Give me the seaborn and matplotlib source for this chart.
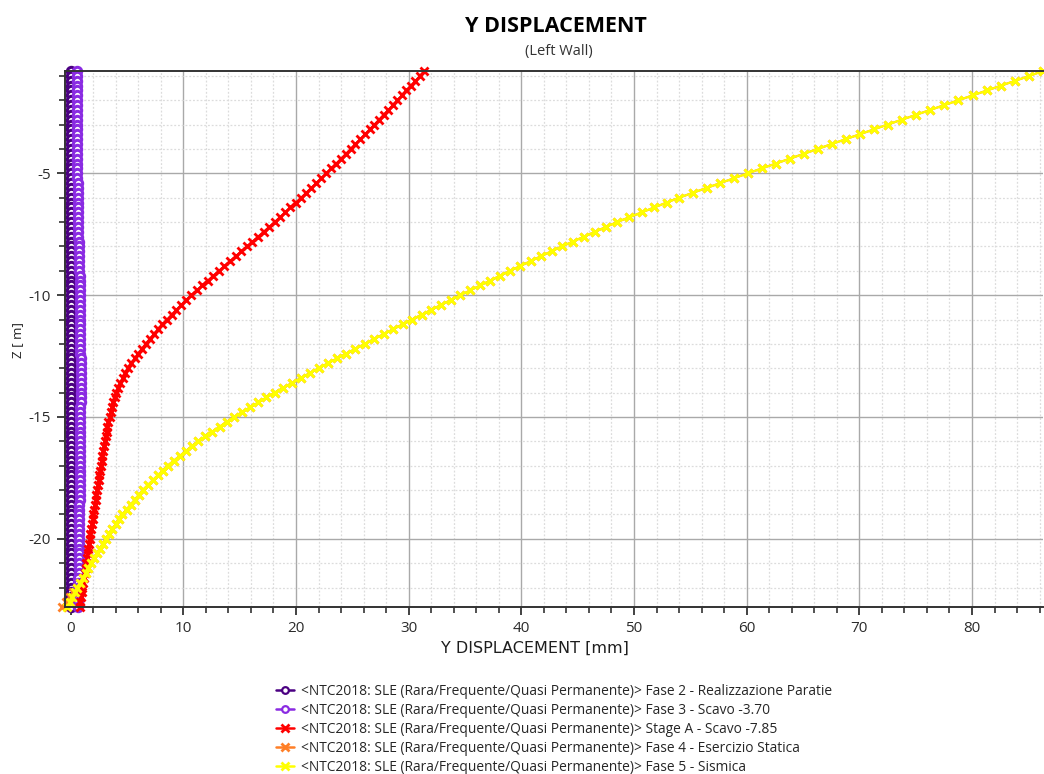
import matplotlib
matplotlib.use("Agg")
import matplotlib.pyplot as plt
import seaborn as sns
from matplotlib.ticker import MultipleLocator
from matplotlib.lines import Line2D

# ---------------------------------------------------------------------------
# Wall nodes (depth, m) and horizontal Y displacement of the left wall (mm)
# ---------------------------------------------------------------------------
depth = [
    -0.8, -1.0,
    -1.2, -1.4, -1.6, -1.8, -2.0,
    -2.2, -2.4, -2.6, -2.8, -3.0,
    -3.2, -3.4, -3.6, -3.8, -4.0,
    -4.2, -4.4, -4.6, -4.8, -5.0,
    -5.2, -5.4, -5.6, -5.8, -6.0,
    -6.2, -6.4, -6.6, -6.8, -7.0,
    -7.2, -7.4, -7.6, -7.8, -8.0,
    -8.2, -8.4, -8.6, -8.8, -9.0,
    -9.2, -9.4, -9.6, -9.8, -10.0,
    -10.2, -10.4, -10.6, -10.8, -11.0,
    -11.2, -11.4, -11.6, -11.8, -12.0,
    -12.2, -12.4, -12.6, -12.8, -13.0,
    -13.2, -13.4, -13.6, -13.8, -14.0,
    -14.2, -14.4, -14.6, -14.8, -15.0,
    -15.2, -15.4, -15.6, -15.8, -16.0,
    -16.2, -16.4, -16.6, -16.8, -17.0,
    -17.2, -17.4, -17.6, -17.8, -18.0,
    -18.2, -18.4, -18.6, -18.8, -19.0,
    -19.2, -19.4, -19.6, -19.8, -20.0,
    -20.2, -20.4, -20.6, -20.8, -21.0,
    -21.2, -21.4, -21.6, -21.8, -22.0,
    -22.2, -22.4, -22.6, -22.8,
]

fase2 = [
    0.0, 0.0,                       # -0.8 .. -1.0
    0.0, 0.0, 0.0, 0.0, 0.0,        # -1.2 .. -2.0
    0.0, 0.0, 0.0, 0.0, 0.0,        # -2.2 .. -3.0
    0.0, 0.0, 0.0, 0.0, 0.0,        # -3.2 .. -4.0
    0.0, 0.0, 0.0, 0.0, 0.0,        # -4.2 .. -5.0
    0.0, 0.0, 0.0, 0.0, 0.0,        # -5.2 .. -6.0
    0.0, 0.0, 0.0, 0.0, 0.0,        # -6.2 .. -7.0
    0.0, 0.0, 0.0, 0.0, 0.0,        # -7.2 .. -8.0
    0.0, 0.0, 0.0, 0.0, 0.0,        # -8.2 .. -9.0
    0.0, 0.0, 0.0, 0.0, 0.0,        # -9.2 .. -10.0
    0.0, 0.0, 0.0, 0.0, 0.0,        # -10.2 .. -11.0
    0.0, 0.0, 0.0, 0.0, 0.0,        # -11.2 .. -12.0
    0.0, 0.0, 0.0, 0.0, 0.0,        # -12.2 .. -13.0
    0.0, 0.0, 0.0, 0.0, 0.0,        # -13.2 .. -14.0
    0.0, 0.0, 0.0, 0.0, 0.0,        # -14.2 .. -15.0
    0.0, 0.0, 0.0, 0.0, 0.0,        # -15.2 .. -16.0
    0.0, 0.0, 0.0, 0.0, 0.0,        # -16.2 .. -17.0
    0.0, 0.0, 0.0, 0.0, 0.0,        # -17.2 .. -18.0
    0.0, 0.0, 0.0, 0.0, 0.0,        # -18.2 .. -19.0
    0.0, 0.0, 0.0, 0.0, 0.0,        # -19.2 .. -20.0
    0.0, 0.0, 0.0, 0.0, 0.0,        # -20.2 .. -21.0
    0.0, 0.0, 0.0, 0.0, 0.0,        # -21.2 .. -22.0
    0.0, 0.0, 0.0, 0.0,             # -22.2 .. -22.8
]

fase3 = [
    0.55, 0.55,
    0.55, 0.55, 0.56, 0.56, 0.56,
    0.56, 0.56, 0.57, 0.57, 0.57,
    0.57, 0.57, 0.58, 0.58, 0.58,
    0.58, 0.59, 0.59, 0.60, 0.60,
    0.60, 0.61, 0.61, 0.62, 0.62,
    0.63, 0.64, 0.64, 0.65, 0.66,
    0.67, 0.68, 0.69, 0.71, 0.72,
    0.73, 0.74, 0.76, 0.77, 0.78,
    0.79, 0.80, 0.80, 0.81, 0.82,
    0.83, 0.83, 0.84, 0.84, 0.85,
    0.85, 0.86, 0.86, 0.87, 0.87,
    0.87, 0.87, 0.88, 0.88, 0.88,
    0.88, 0.88, 0.88, 0.88, 0.88,
    0.88, 0.88, 0.87, 0.87, 0.87,
    0.87, 0.86, 0.86, 0.85, 0.85,
    0.85, 0.84, 0.84, 0.83, 0.83,
    0.82, 0.82, 0.81, 0.81, 0.80,
    0.79, 0.79, 0.78, 0.78, 0.77,
    0.76, 0.76, 0.75, 0.75, 0.74,
    0.73, 0.73, 0.72, 0.72, 0.71,
    0.70, 0.70, 0.69, 0.69, 0.68,
    0.67, 0.67, 0.66, 0.65,
]

stage_a = [
    31.40, 31.00,
    30.60, 30.20, 29.80, 29.40, 29.00,
    28.59, 28.18, 27.77, 27.36, 26.95,
    26.53, 26.11, 25.69, 25.27, 24.85,
    24.42, 23.99, 23.56, 23.13, 22.70,
    22.25, 21.80, 21.35, 20.90, 20.45,
    19.98, 19.51, 19.04, 18.57, 18.10,
    17.61, 17.12, 16.63, 16.14, 15.65,
    15.15, 14.65, 14.15, 13.65, 13.15,
    12.66, 12.17, 11.68, 11.19, 10.70,
    10.25, 9.81, 9.38, 8.96, 8.55,
    8.15, 7.76, 7.38, 7.01, 6.65,
    6.31, 5.98, 5.67, 5.38, 5.11,
    4.86, 4.63, 4.42, 4.23, 4.06,
    3.91, 3.78, 3.66, 3.55, 3.45,
    3.36, 3.27, 3.19, 3.11, 3.03,
    2.96, 2.89, 2.82, 2.75, 2.68,
    2.62, 2.55, 2.49, 2.42, 2.36,
    2.29, 2.22, 2.16, 2.09, 2.02,
    1.96, 1.89, 1.83, 1.76, 1.70,
    1.64, 1.58, 1.52, 1.46, 1.40,
    1.33, 1.26, 1.19, 1.12, 1.05,
    0.99, 0.93, 0.86, 0.80,
]

fase5 = [
    86.30, 85.10,
    83.84, 82.58, 81.32, 80.06, 78.80,
    77.54, 76.28, 75.02, 73.76, 72.50,
    71.26, 70.02, 68.78, 67.54, 66.30,
    65.06, 63.82, 62.58, 61.34, 60.10,
    58.88, 57.66, 56.44, 55.22, 54.00,
    52.90, 51.80, 50.70, 49.60, 48.50,
    47.52, 46.54, 45.56, 44.58, 43.60,
    42.68, 41.76, 40.84, 39.92, 39.00,
    38.12, 37.24, 36.36, 35.48, 34.60,
    33.74, 32.88, 32.02, 31.16, 30.30,
    29.46, 28.62, 27.78, 26.94, 26.10,
    25.28, 24.46, 23.64, 22.82, 22.00,
    21.22, 20.44, 19.66, 18.88, 18.10,
    17.38, 16.66, 15.94, 15.22, 14.50,
    13.86, 13.22, 12.58, 11.94, 11.30,
    10.76, 10.22, 9.68, 9.14, 8.60,
    8.16, 7.72, 7.28, 6.84, 6.40,
    6.04, 5.68, 5.32, 4.96, 4.60,
    4.30, 4.00, 3.70, 3.40, 3.10,
    2.84, 2.58, 2.32, 2.06, 1.80,
    1.56, 1.32, 1.08, 0.84, 0.60,
    0.38, 0.15, -0.08, -0.30,
]

# Static service phase: almost identical to the seismic one, apart from the toe
fase4 = fase5[:-4] + [0.20, -0.10, -0.45, -0.80]

prefix = "<NTC2018: SLE (Rara/Frequente/Quasi Permanente)> "
phase_names = [
    "Fase 2 - Realizzazione Paratie",
    "Fase 3 - Scavo -3.70",
    "Stage A - Scavo -7.85",
    "Fase 4 - Esercizio Statica",
    "Fase 5 - Sismica",
]
phase_values = [fase2, fase3, stage_a, fase4, fase5]
phase_colors = ["#4b0082", "#8a2be2", "#ff0000", "#ff7f27", "#ffff00"]
phase_markers = ["o", "o", "x", "x", "x"]

# ---------------------------------------------------------------------------
sns.set_theme(style="white")
plt.rcParams["font.family"] = ["Open Sans", "DejaVu Sans"]
plt.rcParams["axes.unicode_minus"] = False

fig = plt.figure(figsize=(10.44, 7.74), dpi=100)
W, H = 1044, 774
ax = fig.add_axes([65 / W, 1 - 607 / H, (1043 - 65) / W, (607 - 71) / H])

circle_style = dict(marker="o", markersize=6.0, markeredgewidth=2.2,
                    markerfacecolor="white", linewidth=1.4)
cross_style = dict(marker="x", markersize=6.0, markeredgewidth=2.0, linewidth=1.5)

legend_handles = []
for name, vals, col, mk in zip(phase_names, phase_values, phase_colors, phase_markers):
    style = circle_style if mk == "o" else cross_style
    sns.lineplot(x=vals, y=depth, sort=False, estimator=None, orient="y",
                 color=col, markeredgecolor=col, ax=ax, clip_on=False,
                 legend=False, **style)
    if mk == "o":
        legend_handles.append(Line2D([], [], color=col, lw=1.8, marker="o", markersize=4.8,
                                     markeredgewidth=1.6, markerfacecolor="white",
                                     markeredgecolor=col))
    else:
        legend_handles.append(Line2D([], [], color=col, lw=1.8, marker="x", markersize=5.5,
                                     markeredgewidth=2.0, markeredgecolor=col))

ax.set_xlim(-0.5, 86.3)
ax.set_ylim(-22.8, -0.8)

ax.xaxis.set_major_locator(MultipleLocator(10))
ax.xaxis.set_minor_locator(MultipleLocator(2))
ax.yaxis.set_major_locator(MultipleLocator(5))
ax.yaxis.set_minor_locator(MultipleLocator(1))

ax.set_axisbelow(True)
ax.grid(which="major", color="#a9a9a9", linewidth=1.0, linestyle="-")
ax.grid(which="minor", color="#dcdcdc", linewidth=0.9, linestyle=(0, (1.5, 1.5)))

ax.tick_params(which="major", direction="out", length=6, width=1.3, color="#333333",
               labelsize=11, labelcolor="#2b2b2b", bottom=True, left=True, pad=4)
ax.tick_params(which="minor", direction="out", length=4, width=1.2, color="#333333",
               bottom=True, left=True)

for side in ("left", "bottom", "top"):
    ax.spines[side].set_color("#333333")
    ax.spines[side].set_linewidth(1.4)
ax.spines["right"].set_visible(False)

ax.set_xlabel("Y DISPLACEMENT [mm]", fontsize=11.5, color="#1e1e1e",
              family=["DejaVu Sans"])
ax.xaxis.set_label_coords((535 - 65) / (1043 - 65), -(648 - 607) / (607 - 71))
ax.xaxis.label.set_verticalalignment("center")
ax.set_ylabel("Z [ m]", fontsize=9.5, color="#1e1e1e")
ax.yaxis.set_label_coords(-(65 - 24) / (1043 - 65), (607 - 340) / (607 - 71))

fig.text(556 / W, 1 - 26 / H, "Y DISPLACEMENT", ha="center", va="center",
         fontsize=15.5, fontweight="bold", color="#000000")
fig.text(559 / W, 1 - 52 / H, "(Left Wall)", ha="center", va="center",
         fontsize=10.5, color="#333333")

fig.legend(legend_handles, [prefix + n for n in phase_names],
           loc="upper left", bbox_to_anchor=(276 / W, 1 - 684 / H),
           frameon=False, fontsize=9.9, labelspacing=0.29, handlelength=1.3,
           handletextpad=0.55, borderaxespad=0, borderpad=0)

fig.savefig("out.png", dpi=100)
